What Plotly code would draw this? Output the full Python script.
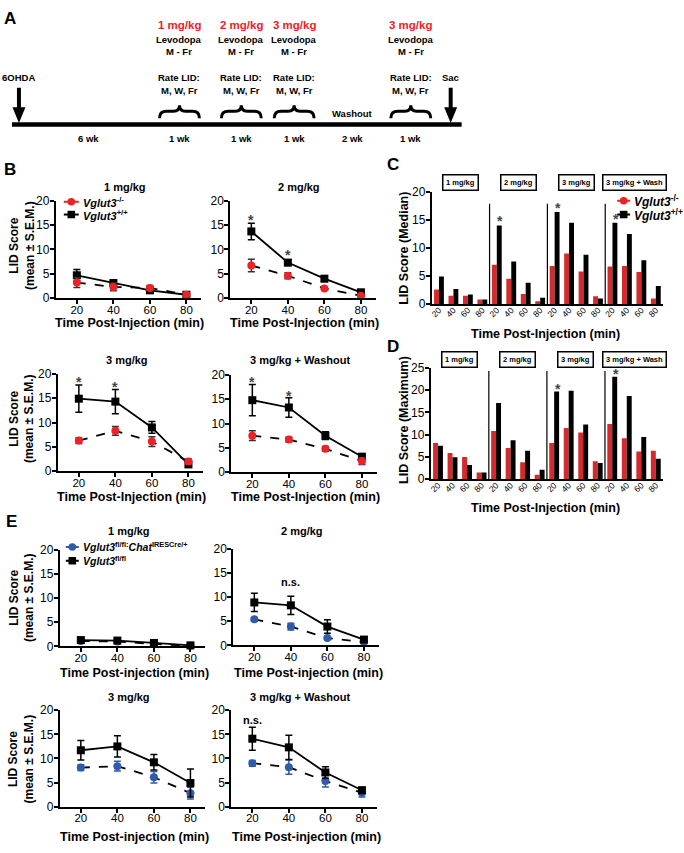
import plotly.graph_objects as go

W, H = 684, 853
def X(px): return px / W
def Y(py): return 1 - py / H

FONT = "Liberation Sans, Arial, Helvetica, sans-serif"
RED = "#EC2227"
BARRED = "#D42A2E"
BLUE = "#2F5BA8"

# ---------------- data ----------------
times = [20, 40, 60, 80]
dose_titles = ["1 mg/kg", "2 mg/kg", "3 mg/kg", "3 mg/kg + Washout"]

# Panel B : Vglut3-/- (red) and Vglut3+/+ (black), mean and SEM per dose
b_ko_mean = [[3.2, 2.3, 2.1, 0.7], [6.7, 4.6, 2.0, 0.5], [6.3, 8.3, 6.1, 2.0], [7.5, 6.7, 4.8, 2.3]]
b_ko_sem = [[1.0, 0.8, 0.5, 0.3], [1.3, 0.6, 0.2, 0.2], [0.6, 0.9, 1.0, 0.5], [1.0, 0.5, 0.5, 0.7]]
b_wt_mean = [[4.7, 3.1, 1.6, 0.7], [13.7, 7.3, 4.0, 1.2], [14.9, 14.3, 9.0, 1.4], [14.8, 13.3, 7.5, 3.2]]
b_wt_sem = [[1.2, 0.5, 0.4, 0.3], [1.7, 0.6, 0.6, 0.3], [2.8, 2.5, 1.2, 0.5], [3.2, 2.0, 0.8, 0.5]]
b_star_times = [[], [20, 40], [20, 40], [20, 40]]
b_star_levels = [[], [16.6, 9.4], [18.9, 18.0], [19.2, 16.3]]

# Panel C (median) and D (maximum): 4 doses x 4 times
bar_doses = ["1 mg/kg", "2 mg/kg", "3 mg/kg", "3 mg/kg + Wash"]
c_ko = [2.6, 1.5, 1.5, 0.8, 7.0, 4.5, 1.8, 0.5, 6.8, 9.0, 5.8, 1.4, 6.7, 6.8, 5.7, 1.0]
c_wt = [4.9, 2.7, 1.7, 0.8, 14.0, 7.6, 3.8, 1.1, 16.4, 14.5, 8.8, 1.0, 14.5, 12.5, 7.8, 3.2]
c_star_idx = [4, 8, 12]
c_star_levels = [15.4, 17.6, 15.7]
d_ko = [8.1, 5.9, 5.0, 1.5, 10.8, 7.0, 3.8, 1.0, 8.1, 11.5, 10.5, 4.0, 12.4, 9.2, 6.2, 6.4]
d_wt = [7.5, 4.9, 3.2, 1.5, 17.1, 8.75, 6.4, 2.1, 19.7, 19.9, 12.3, 3.6, 23.0, 18.7, 9.5, 4.6]
d_star_idx = [8, 12]
d_star_levels = [21.0, 24.4]

# Panel E : Vglut3fl/fl:ChatIRESCre/+ (blue) and Vglut3fl/fl (black)
e_cko_mean = [[1.1, 1.0, 0.5, 0.1], [5.4, 3.9, 1.5, 0.7], [8.1, 8.4, 6.1, 2.8], [9.0, 8.2, 5.3, 2.9]]
e_cko_sem = [[0.2, 0.2, 0.1, 0.1], [0.3, 0.7, 0.2, 0.2], [0.6, 1.0, 1.2, 1.2], [0.6, 1.5, 1.2, 0.9]]
e_ctl_mean = [[1.3, 1.2, 0.7, 0.2], [8.9, 8.3, 3.9, 1.2], [11.7, 12.5, 9.2, 4.9], [14.1, 12.3, 7.1, 3.4]]
e_ctl_sem = [[0.2, 0.2, 0.1, 0.1], [1.9, 1.9, 1.4, 0.5], [2.0, 2.2, 1.6, 2.9], [2.4, 2.5, 1.2, 0.6]]
e_ns_times = [None, 40, None, 20]
e_ns_levels = [None, 13.1, None, 18.0]

# Panel A timeline texts
tl_doses = ["1 mg/kg", "2 mg/kg", "3 mg/kg", "3 mg/kg"]
tl_weeks = ["6 wk", "1 wk", "1 wk", "1 wk", "2 wk", "1 wk"]

# ---------------- layout helpers ----------------
fig = go.Figure()
axes = {}
shapes = []
anns = []

def ann(text, xp, yp, size, color="black", angle=0, xanchor="center", yanchor="middle"):
    anns.append(dict(text=text, x=X(xp), y=Y(yp), xref="paper", yref="paper", showarrow=False,
                     xanchor=xanchor, yanchor=yanchor,
                     font=dict(size=size, color=color, family=FONT), textangle=angle))

def add_axes(i, xd, yd, xrange, yrange, xtickvals, ytickvals, xticktext=None, xtickangle=0,
             xfont=11.5, xticks="outside"):
    k = "" if i == 1 else str(i)
    axes["xaxis" + k] = dict(domain=[X(xd[0]), X(xd[1])], anchor="y" + k, range=xrange,
                             tickvals=xtickvals, ticktext=xticktext, tickangle=xtickangle,
                             showline=True, linewidth=2, linecolor="black", ticks=xticks,
                             ticklen=4, tickwidth=1.5, tickcolor="black", showgrid=False,
                             zeroline=False, ticklabelstandoff=-4,
                             tickfont=dict(size=xfont, color="black", family=FONT))
    axes["yaxis" + k] = dict(domain=[Y(yd[1]), Y(yd[0])], anchor="x" + k, range=yrange,
                             tickvals=ytickvals, showline=True, linewidth=2, linecolor="black",
                             ticks="outside", ticklen=4, tickwidth=1.5, tickcolor="black",
                             showgrid=False, zeroline=False, ticklabelstandoff=-2,
                             tickfont=dict(size=12, color="black", family=FONT))
    return ("x" + k, "y" + k)

def series(xa, ya, mean, sem, mcolor, symbol, dash, ecolor):
    fig.add_trace(go.Scatter(
        x=times, y=mean, xaxis=xa, yaxis=ya, mode="lines+markers", cliponaxis=False,
        line=dict(color="black", width=1.8, dash=dash),
        marker=dict(color=mcolor, size=8, symbol=symbol),
        error_y=dict(type="data", array=sem, color=ecolor, thickness=1.5, width=3.5),
        showlegend=False))

XR = [8.5, 88.2]
YT = [0, 5, 10, 15, 20]

# ---------------- Panel A ----------------
ann("<b>A</b>", 8, 12, 17)
tl_x = [178, 240, 293, 410]
for t, xp in zip(tl_doses, tl_x):
    ann(f"<b>{t}</b>", xp, 18, 11.5, RED)
    ann("<b>Levodopa</b>", xp, 33, 9.5)
    ann("<b>M - Fr</b>", xp, 45, 9.5)
    ann("<b>Rate LID:</b>", xp, 72, 9.5)
    ann("<b>M, W, Fr</b>", xp, 85, 9.5)
    c = xp
    x0, x1 = c - 20, c + 20
    shapes.append(dict(type="path", xref="paper", yref="paper", line=dict(color="black", width=3),
                       path=(f"M {X(x0)},{Y(113)} Q {X(x0)},{Y(106)} {X(x0+7)},{Y(106)} "
                             f"L {X(c-6)},{Y(106)} Q {X(c)},{Y(106)} {X(c)},{Y(100)} "
                             f"Q {X(c)},{Y(106)} {X(c+6)},{Y(106)} L {X(x1-7)},{Y(106)} "
                             f"Q {X(x1)},{Y(106)} {X(x1)},{Y(113)}")))
ann("<b>6OHDA</b>", 17, 72, 9.5)
ann("<b>Sac</b>", 450, 72, 9.5)
ann("<b>Washout</b>", 352, 108, 9.5)
for t, xp in zip(tl_weeks, [87, 178, 240, 293, 352, 410]):
    ann(f"<b>{t}</b>", xp, 134, 9.5)
shapes.append(dict(type="line", xref="paper", yref="paper", x0=X(10), x1=X(461), y0=Y(119.5), y1=Y(119.5),
                   line=dict(color="black", width=4.5)))
for cx in [17, 450]:
    shapes.append(dict(type="path", xref="paper", yref="paper", fillcolor="black", line=dict(width=0),
                       path=(f"M {X(cx-2)},{Y(82)} L {X(cx+2)},{Y(82)} L {X(cx+2)},{Y(102)} "
                             f"L {X(cx+6.5)},{Y(102)} L {X(cx)},{Y(118)} L {X(cx-6.5)},{Y(102)} "
                             f"L {X(cx-2)},{Y(102)} Z")))

# ---------------- Panel B ----------------
ann("<b>B</b>", 8, 165, 17)
b_dom = [([54, 200], [197, 296]), ([229, 375], [197, 296]), ([56, 202], [373, 472]), ([230, 376], [374, 473])]
b_title_y = [183, 183, 359, 359]
b_xt_y = [321, 321, 498, 498]
for d in range(4):
    xd, yd = b_dom[d]
    xa, ya = add_axes(1 + d, xd, yd, XR, [0, 20], times, YT)
    series(xa, ya, b_wt_mean[d], b_wt_sem[d], "black", "square", "solid", "black")
    series(xa, ya, b_ko_mean[d], b_ko_sem[d], RED, "circle", "dash", "#333333")
    cx = (xd[0] + xd[1]) / 2
    ann(f"<b>{dose_titles[d]}</b>", cx - 4, b_title_y[d], 11)
    ann("<b>Time Post-Injection (min)</b>", cx + 1, b_xt_y[d], 12.5)
    for t, lv in zip(b_star_times[d], b_star_levels[d]):
        anns.append(dict(text="<b>*</b>", x=t, y=lv, xref=xa, yref=ya, showarrow=False, yshift=-3,
                         xanchor="center", yanchor="middle",
                         font=dict(size=14, color="#444444", family=FONT)))
ann("<b>LID Score<br>(mean ± S.E.M.)</b>", 20, 242, 12, angle=-90)
ann("<b>LID Score<br>(mean ± S.E.M.)</b>", 20, 418, 12, angle=-90)

# legend helper
def leg_entry(xl, xr, yp, color, symbol, text, size):
    shapes.append(dict(type="line", xref="paper", yref="paper", x0=X(xl), x1=X(xr), y0=Y(yp), y1=Y(yp),
                       line=dict(color=color, width=2)))
    cx = (xl + xr) / 2
    r = 3.8
    shapes.append(dict(type="circle" if symbol == "circle" else "rect", xref="paper", yref="paper",
                       x0=X(cx - r), x1=X(cx + r), y0=Y(yp - r), y1=Y(yp + r),
                       fillcolor=color, line=dict(width=0)))
    anns.append(dict(text=text, x=X(xr + 2), y=Y(yp), xref="paper", yref="paper", showarrow=False,
                     xanchor="left", yanchor="middle", font=dict(size=size, color="black", family=FONT)))

KO = "<b><i>Vglut3</i></b><sup><b>-/-</b></sup>"
WT = "<b><i>Vglut3</i></b><sup><b>+/+</b></sup>"
leg_entry(62, 77, 198, RED, "circle", KO, 11)
leg_entry(62, 77, 211, "black", "square", WT, 11)

# ---------------- Panels C & D ----------------
idx = list(range(len(c_ko)))
ticktext = [str(t) for t in times] * len(bar_doses)
for (lab, lx, ly, i, xd, yd, yr, ytv, ko, wt, st_i, st_l, ytitle, ytitle_y, xt_y, box_y, sep_top) in [
        ("C", 392, 160, 5, [431, 663], [188, 302], [0, 20], YT, c_ko, c_wt, c_star_idx, c_star_levels,
         "LID Score (Median)", 245, 332, 178, 17.9),
        ("D", 392, 345, 6, [430, 663], [367, 480], [0, 25], [0, 5, 10, 15, 20, 25], d_ko, d_wt,
         d_star_idx, d_star_levels, "LID Score (Maximum)", 420, 509, 358, 24.3)]:
    ann(f"<b>{lab}</b>", lx, ly, 17)
    xa, ya = add_axes(i, xd, yd, [-0.5, len(idx) - 0.5], yr, idx, ytv, xticktext=ticktext,
                      xtickangle=-45, xfont=8.5, xticks="")
    fig.add_trace(go.Bar(x=idx, y=ko, xaxis=xa, yaxis=ya, marker=dict(color=BARRED, line=dict(width=0)),
                         showlegend=False))
    fig.add_trace(go.Bar(x=idx, y=wt, xaxis=xa, yaxis=ya, marker=dict(color="black", line=dict(width=0)),
                         showlegend=False))
    for s in [3.5, 7.5, 11.5]:
        shapes.append(dict(type="line", xref=xa, yref=ya, x0=s, x1=s, y0=0, y1=sep_top,
                           line=dict(color="black", width=1.2)))
    for j, name in enumerate(bar_doses):
        anns.append(dict(text=f"<b>{name}</b>", x=j * 4 + 1.5, y=Y(box_y), xref=xa, yref="paper",
                         xanchor="center", yanchor="middle",
                         showarrow=False, bordercolor="black", borderwidth=1.5, borderpad=2.5,
                         font=dict(size=7.5, color="black", family=FONT)))
    for k, lv in zip(st_i, st_l):
        anns.append(dict(text="<b>*</b>", x=k, y=lv, xref=xa, yref=ya, showarrow=False, xshift=3.5,
                         yshift=-3, xanchor="center", yanchor="middle",
                         font=dict(size=14, color="#444444", family=FONT)))
    ann(f"<b>{ytitle}</b>", 403, ytitle_y, 12.5, angle=-90)
    ann("<b>Time Post-Injection (min)</b>", 545, xt_y, 12.5)

leg_entry(617, 630, 197, RED, "circle", KO, 12)
leg_entry(617, 630, 211, "black", "square", WT, 12)

# ---------------- Panel E ----------------
ann("<b>E</b>", 10, 523, 17)
e_dom = [([58, 204], [552, 650]), ([232, 378], [551, 649]), ([58, 204], [715, 813]), ([230, 376], [715, 813])]
e_title_y = [533, 533, 702, 702]
e_xt_y = [677, 677, 844, 844]
for d in range(4):
    xd, yd = e_dom[d]
    xa, ya = add_axes(7 + d, xd, yd, XR, [0, 20], times, YT)
    series(xa, ya, e_cko_mean[d], e_cko_sem[d], BLUE, "circle", "dash", BLUE)
    series(xa, ya, e_ctl_mean[d], e_ctl_sem[d], "black", "square", "solid", "black")
    cx = (xd[0] + xd[1]) / 2
    ann(f"<b>{dose_titles[d]}</b>", cx - 4, e_title_y[d], 11)
    ann("<b>Time Post-injection (min)</b>", cx + 2, e_xt_y[d], 12.5)
    if e_ns_times[d] is not None:
        anns.append(dict(text="<b>n.s.</b>", x=e_ns_times[d], y=e_ns_levels[d], xref=xa, yref=ya,
                         xanchor="center", yanchor="middle",
                         showarrow=False, font=dict(size=11, color="black", family=FONT)))
ann("<b>LID Score<br>(mean ± S.E.M.)</b>", 20, 600, 12, angle=-90)
ann("<b>LID Score<br>(mean ± S.E.M.)</b>", 20, 764, 12, angle=-90)
leg_entry(64, 77, 549, BLUE, "circle",
          "<b><i>Vglut3</i></b><sup><b>fl/fl:</b></sup><b><i>Chat</i></b><sup><b>IRESCre/+</b></sup>", 10.5)
leg_entry(64, 77, 563, "black", "square", "<b><i>Vglut3</i></b><sup><b>fl/fl</b></sup>", 10.5)

fig.update_layout(width=W, height=H, margin=dict(l=0, r=0, t=0, b=0), paper_bgcolor="white",
                  plot_bgcolor="white", showlegend=False, barmode="group", bargap=0.32,
                  font=dict(family=FONT, color="black"), shapes=shapes, annotations=anns, **axes)
fig.write_html("out.html", config={"displayModeBar": False},
               post_script="document.body.style.margin='0px';")
